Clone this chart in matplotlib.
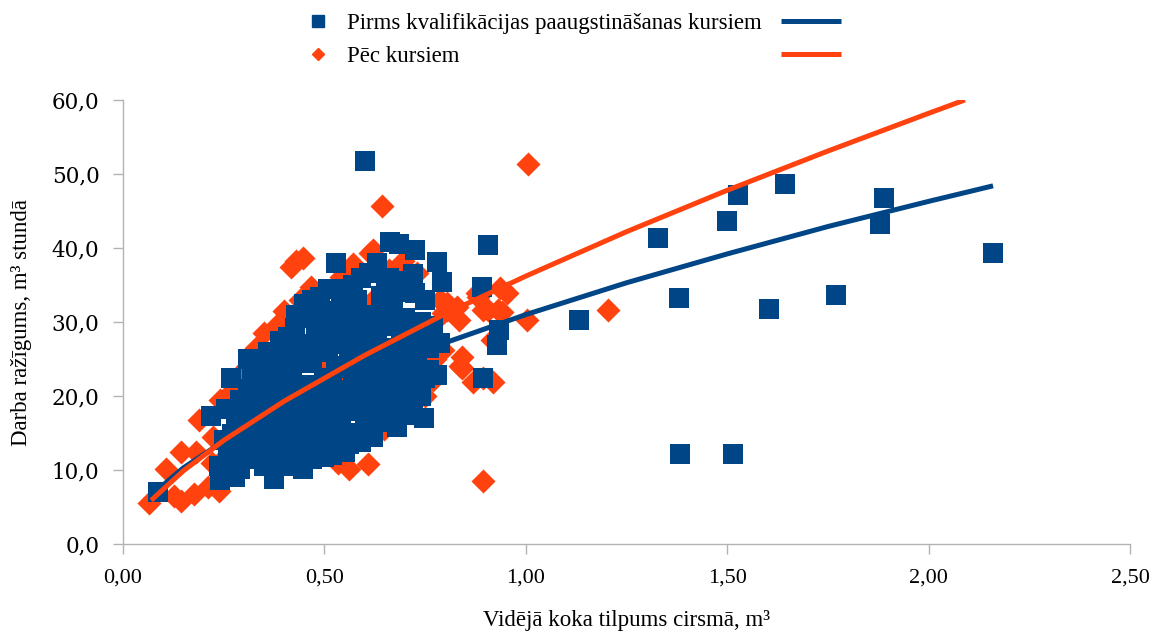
import numpy as np
import matplotlib.pyplot as plt
from matplotlib.lines import Line2D
from matplotlib.ticker import FuncFormatter

plt.rcParams['font.family'] = ['Liberation Serif', 'DejaVu Serif']

BLUE = '#004586'
ORANGE = '#ff420e'

# Pirms kursiem (blue squares)
before_x = [0.087, 0.218, 0.255, 0.268, 0.24, 0.277, 0.29, 0.238, 0.26, 0.27, 0.28, 0.29, 0.30, 0.30, 0.28, 0.25,
            0.31, 0.32, 0.33, 0.33, 0.34, 0.35, 0.35, 0.36, 0.374, 0.37, 0.37, 0.38, 0.39, 0.39, 0.40, 0.40,
            0.41, 0.42, 0.42, 0.426, 0.43, 0.448, 0.44, 0.45, 0.45, 0.46, 0.46, 0.47, 0.47, 0.48, 0.48, 0.49, 0.49,
            0.50, 0.50, 0.50, 0.498,
            0.51, 0.51, 0.52, 0.52, 0.53, 0.53, 0.53, 0.54, 0.54, 0.55, 0.55, 0.55, 0.56, 0.56, 0.57, 0.57, 0.58,
            0.58, 0.58, 0.59, 0.59, 0.60, 0.60, 0.60,
            0.61, 0.61, 0.62, 0.62, 0.63, 0.63, 0.64, 0.64, 0.65, 0.65, 0.664, 0.66, 0.67, 0.67, 0.68, 0.684, 0.68,
            0.69, 0.69, 0.70, 0.70, 0.70, 0.652,
            0.71, 0.72, 0.72, 0.726, 0.726, 0.73, 0.74, 0.748, 0.75, 0.76, 0.78, 0.78, 0.788, 0.793,
            0.34, 0.44, 0.52, 0.57, 0.62, 0.36, 0.47, 0.55, 0.66, 0.42, 0.31, 0.63, 0.53, 0.45, 0.58,
            0.32, 0.36, 0.39, 0.41, 0.43, 0.45, 0.47, 0.33, 0.38, 0.40, 0.43, 0.46, 0.48, 0.51, 0.54,
            0.57, 0.59, 0.63, 0.66, 0.70, 0.72, 0.75, 0.77, 0.76, 0.74, 0.71, 0.65, 0.62, 0.56, 0.52,
            0.46, 0.41, 0.34, 0.31, 0.29, 0.27, 0.56, 0.52, 0.48, 0.44, 0.40, 0.36, 0.60, 0.64, 0.68,
            0.72, 0.74, 0.66, 0.62, 0.58, 0.55, 0.50, 0.47, 0.53, 0.67, 0.58, 0.42, 0.38, 0.35, 0.31,
            0.60, 0.907, 0.892, 0.894, 0.929, 0.934,
            1.132, 1.328, 1.380, 1.383, 1.500, 1.526, 1.514, 1.603, 1.643, 1.769, 1.880, 1.890, 2.160]
before_y = [7.0, 17.3, 18.2, 22.4, 8.6, 9.0, 10.2, 10.5, 12.5, 14.8, 16.5, 19.5, 13.0, 17.8, 11.5, 14.0,
            21.0, 15.5, 18.5, 12.0, 22.8, 10.5, 16.8, 20.5, 8.8, 24.5, 13.8, 18.0, 11.5, 22.0, 15.5, 26.0,
            19.5, 12.8, 23.5, 29.2, 16.5, 10.1, 26.5, 21.0, 14.0, 30.5, 18.0, 11.5, 24.5, 27.8, 15.5, 33.4, 20.5,
            13.0, 22.5, 29.5, 11.8,
            17.0, 26.0, 31.5, 14.5, 38.0, 20.0, 23.8, 28.0, 16.0, 34.0, 18.5, 12.5, 25.5, 30.5, 21.5, 15.0, 33.0,
            18.0, 27.0, 23.5, 13.8, 30.0, 19.5, 16.0,
            36.6, 26.0, 22.0, 31.0, 17.5, 28.5, 24.0, 33.5, 20.0, 29.5, 40.8, 26.5, 18.0, 31.5, 15.8, 40.6, 22.5,
            28.0, 34.0, 20.5, 25.5, 30.5, 33.9,
            23.0, 19.0, 28.5, 39.7, 33.9, 25.0, 30.0, 17.0, 22.5, 26.5, 38.1, 22.9, 27.2, 35.4,
            19.0, 16.0, 21.5, 27.5, 19.0, 26.0, 21.0, 24.0, 22.0, 20.5, 25.0, 16.5, 34.5, 27.0, 31.0,
            23.5, 26.0, 27.5, 28.0, 31.0, 32.5, 33.0, 20.5, 24.0, 21.5, 25.0, 27.0, 30.5, 34.5, 32.0,
            35.0, 36.0, 38.0, 36.0, 35.5, 36.5, 33.0, 29.5, 23.5, 20.0, 17.5, 16.5, 14.5, 13.5, 12.0,
            12.0, 10.5, 13.0, 11.5, 14.0, 11.5, 19.0, 17.5, 18.0, 19.0, 18.0, 15.0, 24.0, 21.0, 25.0,
            25.5, 27.5, 30.0, 27.5, 30.0, 27.0, 26.5, 21.5, 29.0, 22.0, 23.0, 15.5, 21.0, 18.5, 17.0,
            51.8, 40.4, 34.7, 22.5, 26.9, 28.9,
            30.3, 41.3, 33.2, 12.2, 43.7, 47.1, 12.2, 31.8, 48.7, 33.6, 43.3, 46.8, 39.3]

# Pēc kursiem (orange diamonds)
after_x = [0.064, 0.107, 0.144, 0.18, 0.188, 0.223, 0.144, 0.126, 0.176, 0.211, 0.238, 0.26, 0.28, 0.235,
           0.31, 0.325, 0.35, 0.372, 0.416, 0.429, 0.446, 0.466, 0.533, 0.54, 0.548, 0.572, 0.614, 0.62,
           0.642, 0.659, 0.66, 0.696, 0.731, 0.533, 0.56, 0.607, 0.607, 0.647, 0.696, 0.77,
           0.788, 0.795, 0.795, 0.805, 0.805, 0.83, 0.833, 0.837, 0.842, 0.842, 0.87, 0.88, 0.882, 0.894,
           0.894, 0.907, 0.917, 0.919, 0.93, 0.937, 0.941, 0.954, 1.003, 1.006, 1.204, 0.894, 0.775, 0.75,
           0.30, 0.35, 0.40, 0.45, 0.50, 0.55, 0.60, 0.65, 0.70, 0.50, 0.42, 0.38, 0.33, 0.55, 0.62, 0.68,
           0.48, 0.58, 0.72, 0.26, 0.22, 0.29, 0.33, 0.38, 0.40, 0.44, 0.24]
after_y = [5.6, 10.1, 12.5, 12.5, 16.8, 14.4, 5.8, 6.5, 6.7, 7.7, 7.1, 20.2, 21.5, 10.8,
           24.0, 25.3, 28.5, 11.4, 37.4, 38.3, 38.7, 34.7, 33.9, 36.1, 36.3, 37.9, 39.3, 39.7,
           45.7, 36.7, 37.0, 38.3, 36.6, 11.0, 10.1, 10.8, 14.5, 15.5, 17.5, 22.2,
           33.0, 26.2, 31.2, 31.6, 32.6, 32.0, 30.3, 24.0, 25.3, 23.8, 21.9, 33.9, 33.4, 31.6,
           22.5, 31.6, 27.6, 21.9, 31.6, 34.6, 31.3, 33.9, 30.3, 51.4, 31.6, 8.5, 25.0, 20.0,
           15.0, 20.0, 22.0, 18.0, 25.0, 22.0, 28.0, 25.0, 27.0, 16.0, 26.0, 14.0, 17.0, 30.0, 33.0, 30.0,
           12.0, 20.0, 24.0, 13.0, 11.0, 23.0, 26.5, 29.5, 31.5, 33.0, 19.5]

# trend lines
trend_before_x = [0.07, 0.15, 0.25, 0.40, 0.60, 0.80, 1.00, 1.25, 1.50, 1.75, 2.00, 2.16]
trend_before_y = [6.6, 10.3, 13.9, 18.2, 23.1, 27.2, 31.0, 35.3, 39.2, 42.9, 46.3, 48.4]
trend_after_x = [0.07, 0.15, 0.25, 0.40, 0.60, 0.80, 1.00, 1.25, 1.50, 1.75, 2.00, 2.09]
trend_after_y = [5.9, 9.9, 14.0, 19.3, 25.5, 31.1, 36.2, 42.2, 47.8, 53.1, 58.2, 60.0]

label_before = 'Pirms kvalifikācijas paaugstināšanas kursiem'
label_after = 'Pēc kursiem'

fig = plt.figure(figsize=(11.54, 6.32), dpi=100)
ax = fig.add_axes([0.1066, 0.1392, 0.8726, 0.7026])

ax.scatter(after_x, after_y, marker='D', s=150, color=ORANGE, linewidths=0, zorder=2)
ax.scatter(before_x, before_y, marker='s', s=207, color=BLUE, linewidths=0, zorder=3)
ax.plot(trend_before_x, trend_before_y, color=BLUE, lw=3.6, solid_capstyle='butt', zorder=4)
ax.plot(trend_after_x, trend_after_y, color=ORANGE, lw=3.6, solid_capstyle='butt', zorder=5)

ax.set_xlim(0, 2.5)
ax.set_ylim(0, 60)
ax.set_xticks(np.arange(0, 2.51, 0.5))
ax.set_yticks(np.arange(0, 61, 10))
ax.xaxis.set_major_formatter(FuncFormatter(lambda v, p: f'{v:.2f}'.replace('.', ',')))
ax.yaxis.set_major_formatter(FuncFormatter(lambda v, p: f'{v:.1f}'.replace('.', ',')))

for s in ['top', 'right']:
    ax.spines[s].set_visible(False)
for s in ['left', 'bottom']:
    ax.spines[s].set_color('#b3b3b3')
    ax.spines[s].set_linewidth(1.0)
ax.tick_params(axis='both', color='#b3b3b3', width=1.0, length=7, direction='out')
ax.tick_params(axis='x', labelsize=16, pad=11)
ax.tick_params(axis='y', labelsize=15.5, pad=10)
for t in ax.get_yticklabels():
    t.set_fontfamily('DejaVu Serif')

ax.set_xlabel('Vidējā koka tilpums cirsmā, m³', fontsize=16.5, labelpad=16)
ax.set_ylabel('Darba ražīgums, m³ stundā', fontsize=16.5, labelpad=14)

# legend: markers with text, trend lines in a second column
marker_handles = [Line2D([], [], ls='none', marker='s', ms=9, color=BLUE),
                  Line2D([], [], ls='none', marker='D', ms=6.2, color=ORANGE)]
leg1 = fig.legend(marker_handles, [label_before, label_after], loc='upper left',
                  bbox_to_anchor=(0.267, 0.979), frameon=False, fontsize=16.5,
                  handlelength=0.9, handletextpad=0.8, labelspacing=0.52,
                  borderpad=0, borderaxespad=0)
line_handles = [Line2D([], [], color=BLUE, lw=3.6, solid_capstyle='butt'),
                Line2D([], [], color=ORANGE, lw=3.6, solid_capstyle='butt')]
leg2 = fig.legend(line_handles, ['', ''], loc='upper left',
                  bbox_to_anchor=(0.677, 0.979), frameon=False, fontsize=16.5,
                  handlelength=2.6, handletextpad=0, labelspacing=0.52,
                  borderpad=0, borderaxespad=0)

fig.savefig('out.png', dpi=100)
